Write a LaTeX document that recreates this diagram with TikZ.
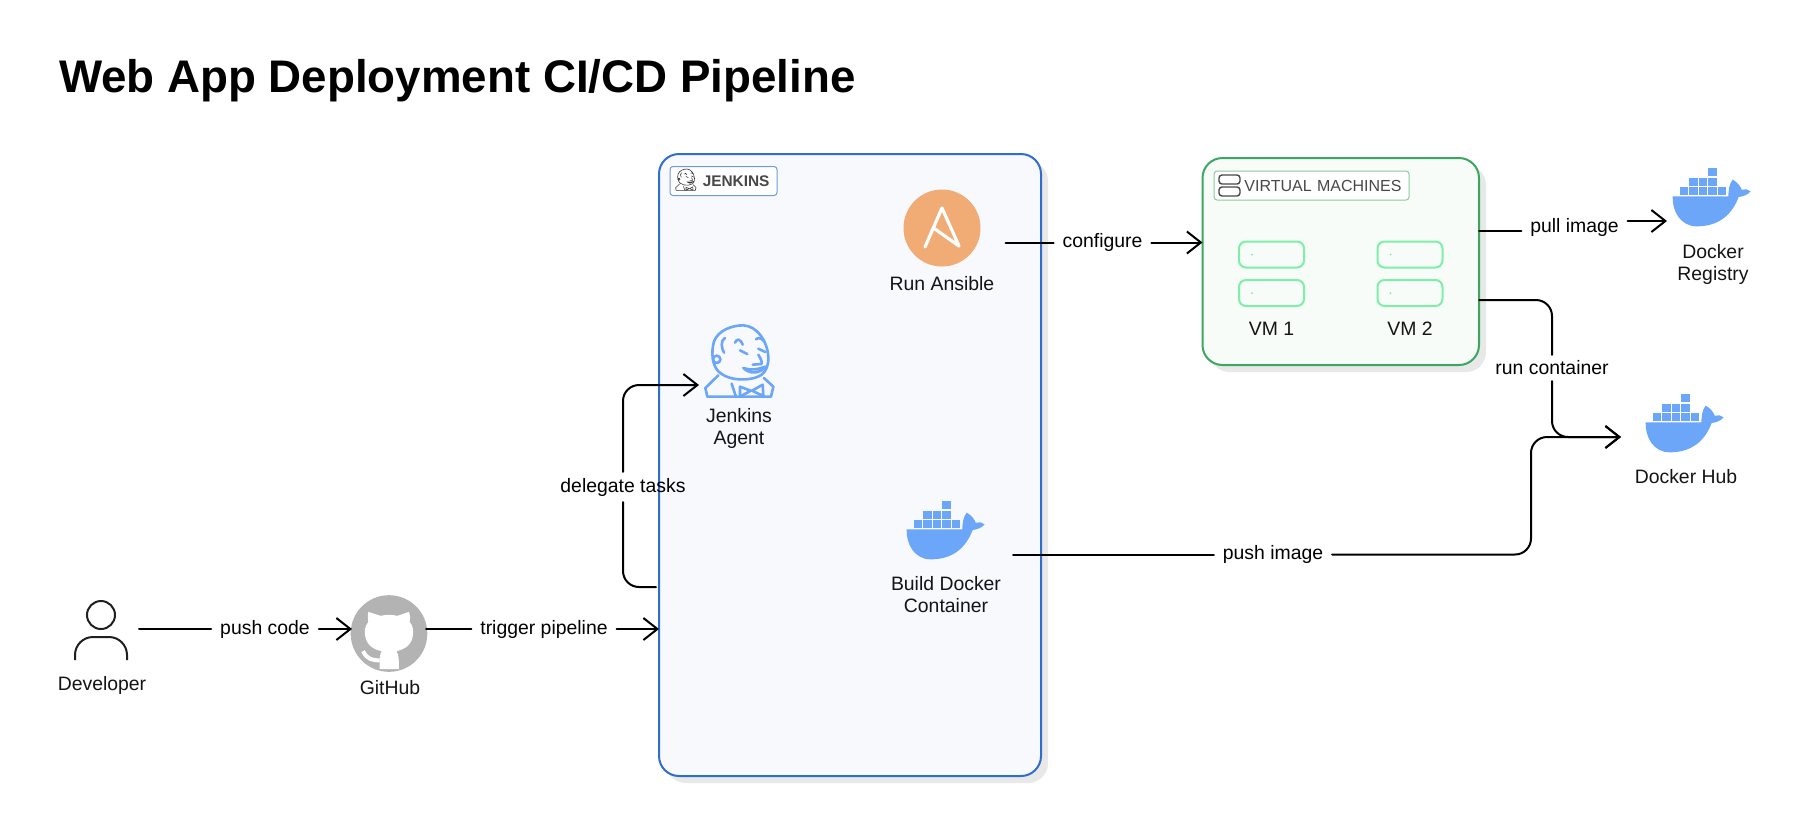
\documentclass[tikz,border=0pt]{standalone}
\usepackage{fontspec}
\usepackage{xcolor}
\usepackage{tikz}
\usetikzlibrary{arrows.meta,shadows}
\setmainfont{Liberation Sans}
\definecolor{iconblue}{HTML}{6CA6F8}
\definecolor{jenkinsblue}{HTML}{2F6FCB}
\definecolor{jenkinsfill}{HTML}{F8F9FD}
\definecolor{vmgreen}{HTML}{3BA75F}
\definecolor{vmfill}{HTML}{F7FCF9}
\definecolor{slotgreen}{HTML}{7DEFA6}
\definecolor{ansibleorange}{HTML}{F1AB75}
\definecolor{octogray}{HTML}{B3B3B3}
\definecolor{tagtext}{HTML}{484848}

\begin{document}
\begin{tikzpicture}[x=0.5pt, y=-0.5pt,
    every node/.style={inner sep=0pt, outer sep=0pt},
    title/.style={font=\fontsize{22.85}{26}\selectfont\bfseries, anchor=base west},
    caption/.style={font=\fontsize{9.7}{11}\selectfont, align=center, text=black!92},
    edgelabel/.style={font=\fontsize{9.7}{11}\selectfont, inner xsep=4.5pt, inner ysep=3pt},
    icon/.style={rectangle, minimum height=30pt},
    group/.style={rectangle, rounded corners=10pt, line width=1pt,
        drop shadow={shadow xshift=3.5pt, shadow yshift=-3.5pt, fill=black!9, opacity=1}},
    tag/.style={rectangle, rounded corners=1.5pt, line width=0.5pt, fill=white, minimum height=14.5pt,
        font=\fontsize{8}{10}\selectfont, text=tagtext, align=right, inner xsep=3.75pt},
    slot/.style={rectangle, rounded corners=3.5pt, draw=slotgreen, fill=vmfill, line width=1pt,
        minimum width=32.5pt, minimum height=13pt},
    line/.style={draw, >={Straight Barb[length=7pt, width=11pt]}, line width=1pt, line cap=round},
    routed/.style={rounded corners=8pt},
    whale/.pic={
        \begin{scope}[scale=1/3, shift={(-156,-110)}]
            \foreach \cx/\cy in {145/23,88/52,116.5/52,145/52,59.5/80,88/80,116.5/80,145/80,173.5/80}
                \fill [iconblue] (\cx,\cy) rectangle ++(25,25);
            \fill [iconblue] (38,108) -- (205,108) .. controls (205,90) and (208,70) .. (218,58)
                .. controls (232,65) and (243,80) .. (245,88)
                .. controls (255,85) and (265,87) .. (272,93)
                .. controls (262,105) and (248,108) .. (236,110)
                .. controls (215,165) and (175,198) .. (110,198)
                .. controls (60,198) and (36,150) .. (38,108) -- cycle;
        \end{scope}
    },
    butler/.pic={
        \begin{scope}[scale=1/3, shift={(-150,-140)}, draw=#1, line cap=round, line join=round]
            % head
            \draw (85,168) .. controls (68,150) and (62,115) .. (72,78)
                .. controls (85,45) and (125,30) .. (160,30)
                .. controls (200,32) and (232,75) .. (235,125)
                .. controls (236,150) and (228,168) .. (215,178)
                .. controls (195,192) and (160,195) .. (130,190)
                .. controls (112,186) and (98,180) .. (85,168);
            \draw (80,132) circle (11);
            \draw (105,68) .. controls (90,75) and (95,100) .. (102,112);
            % face
            \draw (135,82) .. controls (140,70) and (150,68) .. (158,88);
            \draw (198,72) .. controls (205,65) and (215,68) .. (222,78);
            \draw (150,105) -- (172,116);
            \draw (205,100) -- (226,110);
            \draw (205,118) .. controls (212,130) and (218,140) .. (214,146) -- (188,148);
            \draw (160,158) .. controls (185,166) and (205,162) .. (226,154)
                .. controls (215,172) and (182,180) .. (160,158);
            % collar and tie
            \draw (85,180) -- (46,218) -- (52,244) -- (243,244) -- (250,214) -- (222,188);
            \draw (125,205) -- (138,244);
            \draw (150,214) -- (182,226) -- (150,244) -- cycle;
            \draw (218,208) -- (186,226) -- (220,242) -- cycle;
        \end{scope}
    },
    octocat/.pic={
        \begin{scope}[scale=1/3, shift={(-150,-143)}]
            \fill [octogray] (150,143) circle (115);
            \fill [white] (88,78) -- (125,90) .. controls (140,86) and (160,86) .. (175,90)
                -- (210,78) .. controls (214,90) and (214,100) .. (212,108)
                .. controls (222,120) and (224,135) .. (222,145)
                .. controls (220,175) and (200,190) .. (172,196)
                .. controls (178,205) and (180,215) .. (180,250) -- (122,250)
                .. controls (122,215) and (122,205) .. (128,196)
                .. controls (100,190) and (80,175) .. (78,145)
                .. controls (76,135) and (78,120) .. (88,108)
                .. controls (86,100) and (86,90) .. (88,78) -- cycle;
            \draw [white, line width=2pt] (72,196) .. controls (85,222) and (100,222) .. (122,224);
        \end{scope}
    },
    person/.pic={
        \draw [black!88, line width=1pt] (0,-21) circle (14);
        \draw [black!88, line width=1pt, rounded corners=9pt] (-26,24) -- (-26,1) -- (26,1) -- (26,24);
    }]

    % Background
    \useasboundingbox [fill=white] (0,0) rectangle (1806,827);
    \node [title] (title) at (59,92) {Web App Deployment CI/CD Pipeline};

    % Groups
    \node [group, draw=jenkinsblue, fill=jenkinsfill, minimum width=191pt, minimum height=311pt] (jenkins) at (850,465) {};
    \node [group, draw=vmgreen, fill=vmfill, minimum width=138.25pt, minimum height=103.5pt] (vms) at (1340.75,261.5) {};
    \node [tag, draw=jenkinsblue!70, text width=46pt, font=\fontsize{7.7}{10}\selectfont\bfseries] (jenkinstag) at (723.5,181) {JENKINS};
    \node [tag, draw=vmgreen!60, text width=90pt] (vmstag) at (1311.5,185.5) {VIRTUAL MACHINES};

    % Icons
    \node [icon, minimum width=38pt] (dev) at (101,636) {};
    \node [icon, minimum width=37pt] (github) at (389,633.5) {};
    \node [icon, minimum width=41pt] (agent) at (740,362) {};
    \node [circle, fill=ansibleorange, minimum size=38.5pt] (ansible) at (942,228) {};
    \node [icon, minimum width=39pt] (build) at (946,530) {};
    \node [icon, minimum width=45pt] (registry) at (1712,197) {};
    \node [icon, minimum width=64pt] (hub) at (1685,423) {};

    \pic at (dev) {person};
    \pic at (github) {octocat};
    \pic [line width=1.3pt] at (agent) {butler=iconblue};
    \pic [scale=.3, line width=.3pt] at (686,180) {butler=black!80};
    \pic at (build) {whale};
    \pic at (registry) {whale};
    \pic at (hub) {whale};
    \draw [white, line width=1.6pt, line join=round, line cap=round]
        (942,208) -- (925,247) (942,208) -- (959,246) -- (935,229);
    \draw [tagtext, line width=.7pt, rounded corners=1.5pt] (1219,175) rectangle (1240,184);
    \draw [tagtext, line width=.7pt, rounded corners=1.5pt] (1219,187) rectangle (1240,196);

    % Virtual machines
    \foreach \x/\n in {1271.5/1,1410/2} {
        \node [slot] (slot\n a) at (\x,254.5) {};
        \node [slot] (slot\n b) at (\x,293) {};
        \fill [slotgreen] ([xshift=6.5pt]slot\n a.west) circle (1);
        \fill [slotgreen] ([xshift=6.5pt]slot\n b.west) circle (1);
        \node [caption] (vm\n) at (\x,329) {VM \n};
    }

    % Captions
    \node [caption] (devlabel) at (102,685.5) {Developer};
    \node [caption] (githublabel) at (390,687.5) {GitHub};
    \node [caption] (agentlabel) at (739,428) {Jenkins\\Agent};
    \node [caption] (ansiblelabel) at (942,283.5) {Run Ansible};
    \node [caption] (buildlabel) at (946,595) {Build Docker\\Container};
    \node [caption] (registrylabel) at (1713,264) {Docker\\Registry};
    \node [caption] (hublabel) at (1686,476.5) {Docker Hub};

    % Edge labels
    \node [edgelabel] (pushcode) at (265,629) {push code};
    \node [edgelabel] (trigger) at (544,629) {trigger pipeline};
    \node [edgelabel] (delegate) at (623,487) {delegate tasks};
    \node [edgelabel] (configure) at (1102.5,242.5) {configure};
    \node [edgelabel] (pullimage) at (1574.5,227) {pull image};
    \node [edgelabel] (runcontainer) at (1552,368) {run container};
    \node [edgelabel] (pushimage) at (1273,554.5) {push image};
    \coordinate (merge) at (1531,437);

    % Connectors
    \draw [line] (dev.east |- pushcode) -- (pushcode);
    \draw [line, ->] (pushcode) -- (github.west |- pushcode);
    \draw [line] (github.east |- trigger) -- (trigger);
    \draw [line, ->] (trigger) -- (jenkins.west |- trigger);
    \draw [line, routed] ([xshift=-1.5pt]jenkins.west |- 0,587) -| (delegate.south);
    \draw [line, routed, ->] (delegate.north) |- (agent.west |- 0,385);
    \draw [line] ([xshift=12.5pt]ansible.east |- configure) -- (configure);
    \draw [line, ->] (configure) -- (vms.west |- configure);
    \draw [line] (vms.east |- 0,231) -- (pullimage.west |- 0,231);
    \draw [line, ->] (pullimage.east |- 0,221) -- (registry.west |- 0,221);
    \draw [line, routed] (vms.east |- 0,300) -| (runcontainer.north);
    \draw [line, routed, ->] (runcontainer.south) |- (hub.west |- merge);
    \draw [line] ([xshift=14pt]build.east |- pushimage) -- (pushimage);
    \draw [line, routed, ->] (pushimage) -| (merge) -- (hub.west |- merge);

\end{tikzpicture}
\end{document}
